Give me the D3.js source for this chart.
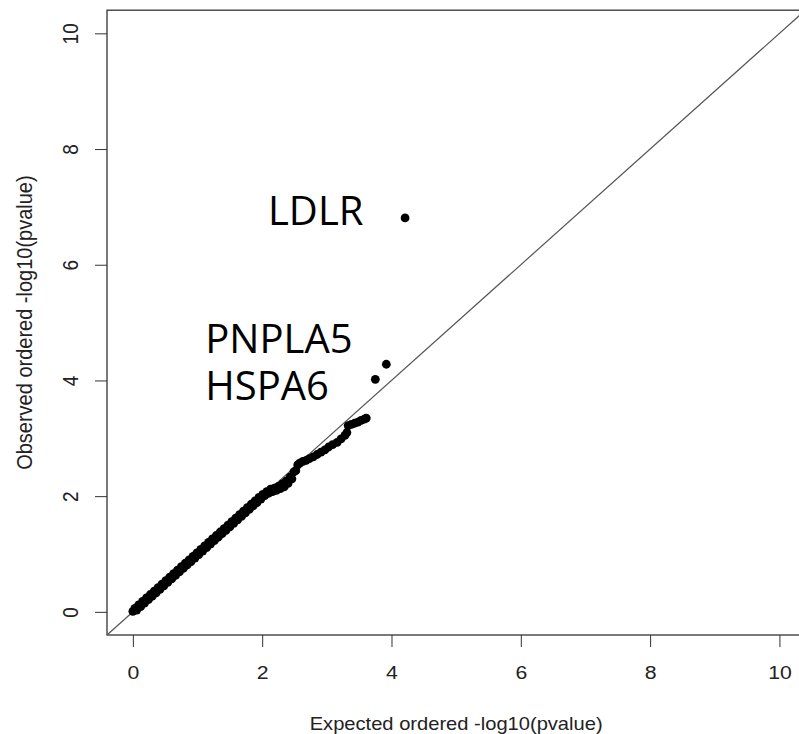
<!DOCTYPE html>
<html>
<head>
<meta charset="utf-8">
<script src="https://cdn.jsdelivr.net/npm/d3@7"></script>
<style>
  body { margin: 0; background: #fff; }
  svg { display: block; }
</style>
</head>
<body>
<svg id="qq-svg"></svg>
<script>
// tick values
const xTicks = [0, 2, 4, 6, 8, 10];
const yTicks = [0, 2, 4, 6, 8, 10];

// expected / observed -log10(p)
const expected = [
  0.00, 0.03, 0.06, 0.09, 0.12, 0.15, 0.18, 0.21, 0.24, 0.27,
  0.30, 0.33, 0.36, 0.39, 0.42, 0.45, 0.48, 0.51, 0.54, 0.57,
  0.60, 0.63, 0.66, 0.69, 0.72, 0.75, 0.78, 0.81, 0.84, 0.87,
  0.90, 0.93, 0.96, 0.99, 1.02, 1.05, 1.08, 1.11, 1.14, 1.17,
  1.20, 1.23, 1.26, 1.29, 1.32, 1.35, 1.38, 1.41, 1.44, 1.47,
  1.50, 1.53, 1.56, 1.59, 1.62, 1.65, 1.68, 1.71, 1.74, 1.77,
  1.80, 1.83, 1.86, 1.89, 1.92, 1.95, 1.98, 2.01, 2.04, 2.07,
  2.10, 2.13, 2.16, 2.19, 2.22, 2.25, 2.28, 2.31, 2.34, 2.37,
  2.40, 2.43, 2.46, 2.49, 2.52, 2.55, 2.58,
  2.63, 2.68, 2.73, 2.79, 2.85, 2.91, 2.97, 3.03, 3.09, 3.16,
  3.22, 3.28, 3.31, 3.33, 3.38, 3.43, 3.48, 3.53, 3.58, 3.61,
  3.75, 3.92, 4.21
];
const observed = [
  0.01, 0.06, 0.03, 0.12, 0.09, 0.18, 0.15, 0.24, 0.21, 0.30,
  0.27, 0.36, 0.33, 0.42, 0.39, 0.48, 0.45, 0.54, 0.51, 0.60,
  0.57, 0.66, 0.63, 0.72, 0.69, 0.78, 0.75, 0.84, 0.81, 0.90,
  0.87, 0.96, 0.93, 1.02, 0.99, 1.08, 1.05, 1.14, 1.11, 1.20,
  1.17, 1.26, 1.23, 1.32, 1.29, 1.38, 1.35, 1.44, 1.41, 1.50,
  1.47, 1.56, 1.53, 1.62, 1.59, 1.68, 1.65, 1.74, 1.71, 1.80,
  1.77, 1.86, 1.83, 1.92, 1.89, 1.98, 1.95, 2.03, 2.01, 2.08,
  2.05, 2.12, 2.08, 2.14, 2.10, 2.17, 2.13, 2.21, 2.16, 2.26,
  2.22, 2.33, 2.30, 2.42, 2.44, 2.54, 2.57,
  2.60, 2.62, 2.65, 2.68, 2.72, 2.76, 2.80, 2.85, 2.89, 2.93,
  2.99, 3.05, 3.10, 3.22, 3.24, 3.26, 3.28, 3.31, 3.33, 3.35,
  4.02, 4.28, 6.81
];

// gene labels
const genes = ["LDLR", "PNPLA5", "HSPA6"];
const geneX = [2.09, 1.12, 1.12];
const geneY = [6.69, 4.47, 3.66];

const width = 799;
const height = 734;
const stretch = 1.118; // picture was widened after plotting

const svg = d3.select("#qq-svg")
  .attr("width", width)
  .attr("height", height);

const x = d3.scaleLinear().domain([-0.4, 10.4]).range([107, 805.3]);
const y = d3.scaleLinear().domain([-0.4, 10.4]).range([635, 10.2]);

// x axis
const xAxis = svg.append("g")
  .attr("transform", `translate(0, ${y(-0.4)})`)
  .call(d3.axisBottom(x).tickValues(xTicks).tickSize(12).tickFormat(d3.format("d")));
xAxis.select(".domain").remove();
xAxis.selectAll(".tick line").attr("stroke", "#333");
xAxis.selectAll(".tick text")
  .attr("y", 0)
  .attr("dy", 0)
  .attr("transform", `translate(0, 44) scale(${stretch}, 1)`)
  .attr("fill", "#222")
  .attr("font-family", "'Liberation Sans', Arial, sans-serif")
  .attr("font-size", 19);

// y axis
const yAxis = svg.append("g")
  .attr("transform", `translate(${x(-0.4)}, 0)`)
  .call(d3.axisLeft(y).tickValues(yTicks).tickSize(12).tickFormat(d3.format("d")));
yAxis.select(".domain").remove();
yAxis.selectAll(".tick line").attr("stroke", "#333");
yAxis.selectAll(".tick text")
  .attr("x", 0)
  .attr("dy", 0)
  .attr("text-anchor", "middle")
  .attr("transform", `translate(-29, 0) scale(${stretch}, 1) rotate(-90)`)
  .attr("fill", "#222")
  .attr("font-family", "'Liberation Sans', Arial, sans-serif")
  .attr("font-size", 19);

// box
svg.append("rect")
  .attr("x", x(-0.4))
  .attr("y", y(10.4))
  .attr("width", x(10.4) - x(-0.4))
  .attr("height", y(-0.4) - y(10.4))
  .attr("fill", "none")
  .attr("stroke", "#333")
  .attr("stroke-width", 1.3);

// y = x reference line
svg.append("line")
  .attr("x1", x(-0.4))
  .attr("y1", y(-0.4))
  .attr("x2", x(10.4))
  .attr("y2", y(10.4))
  .attr("stroke", "#555")
  .attr("stroke-width", 1.2);

// points
svg.append("g")
  .selectAll("circle")
  .data(expected)
  .join("circle")
  .attr("cx", d => x(d))
  .attr("cy", (d, i) => y(observed[i]))
  .attr("r", 4.4)
  .attr("fill", "#000");

// axis titles
svg.append("text")
  .attr("transform", `translate(${(x(-0.4) + x(10.4)) / 2}, 730) scale(${stretch}, 1)`)
  .attr("text-anchor", "middle")
  .attr("font-family", "'Liberation Sans', Arial, sans-serif")
  .attr("font-size", 18)
  .attr("fill", "#222")
  .text("Expected ordered -log10(pvalue)");

svg.append("text")
  .attr("transform", `translate(32, ${(y(-0.4) + y(10.4)) / 2}) scale(${stretch}, 1) rotate(-90)`)
  .attr("text-anchor", "middle")
  .attr("font-family", "'Liberation Sans', Arial, sans-serif")
  .attr("font-size", 20)
  .attr("fill", "#222")
  .text("Observed ordered -log10(pvalue)");

// gene labels
svg.append("g")
  .selectAll("text")
  .data(genes)
  .join("text")
  .attr("x", (d, i) => x(geneX[i]))
  .attr("y", (d, i) => y(geneY[i]))
  .attr("font-family", "'Open Sans', sans-serif")
  .attr("font-size", 40)
  .attr("fill", "#000")
  .text(d => d);
</script>
</body>
</html>
